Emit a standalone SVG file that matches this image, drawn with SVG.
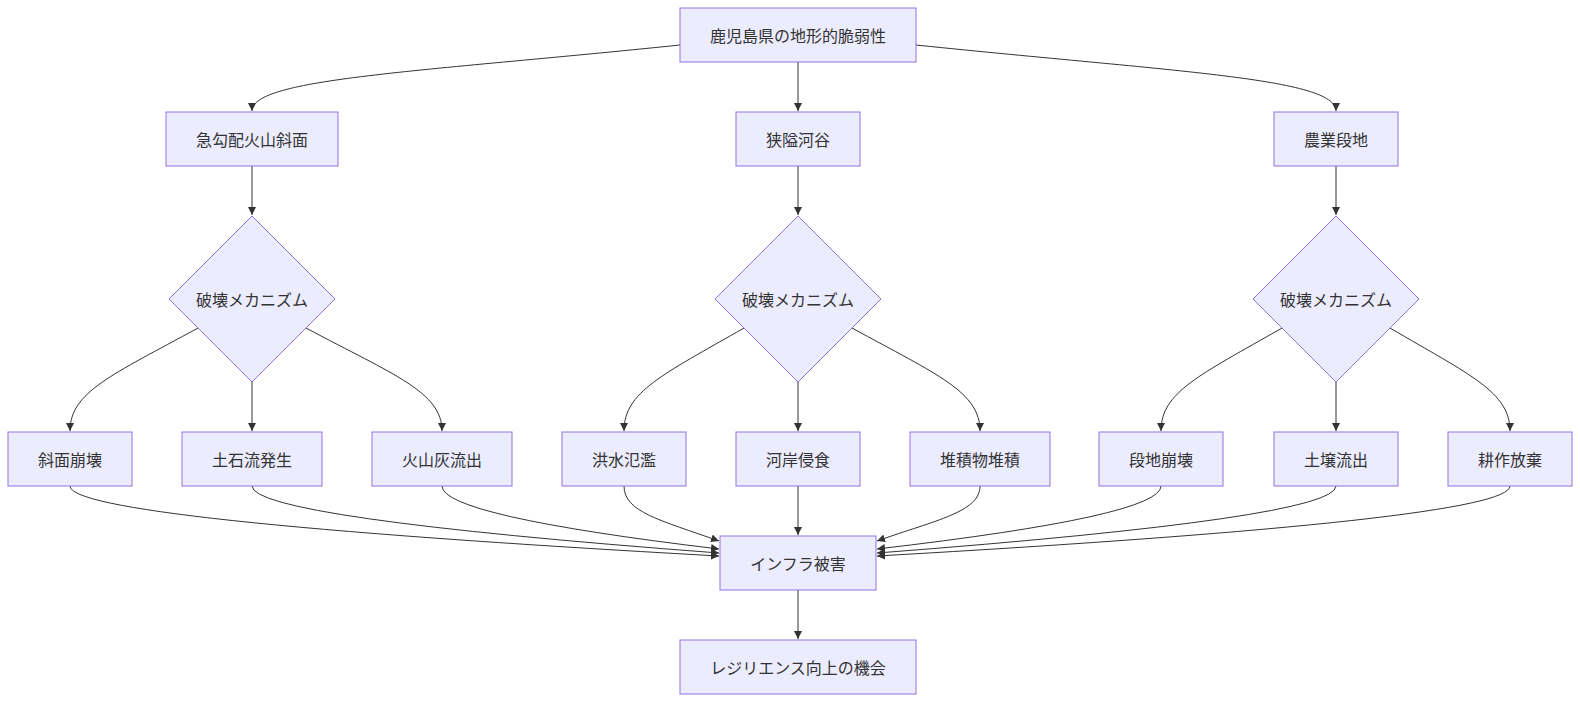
<svg xmlns="http://www.w3.org/2000/svg" width="1580" height="702" viewBox="0 0 1580 702">
<defs>
<marker id="arr" viewBox="0 0 10 10" refX="10" refY="5" markerUnits="userSpaceOnUse" markerWidth="8" markerHeight="8" orient="auto">
<path d="M0,0 L10,5 L0,10 z" fill="#333333"/>
</marker>
</defs>
<style>
.n rect, .n polygon { fill: #ECECFF; stroke: #9370DB; stroke-width: 1; }
.n text { font-family: "Noto Sans CJK JP", "Noto Sans", sans-serif; font-size: 16px; fill: #333333; text-anchor: middle; dominant-baseline: central; }
.e path { fill: none; stroke: #333333; stroke-width: 1; marker-end: url(#arr); }
</style>
<rect width="1580" height="702" fill="#ffffff"/>
<g id="edges" class="e">
<path d="M680,45 C420,72 252,78 252,111"/>
<path d="M798,62 L798,111"/>
<path d="M916,45 C1176,72 1336,78 1336,111"/>
<path d="M252,166 L252,215"/>
<path d="M798,166 L798,215"/>
<path d="M1336,166 L1336,215"/>
<path d="M198,328 C112,375 70,392 70,431"/>
<path d="M252,382 L252,431"/>
<path d="M306,328 C394,375 442,392 442,431"/>
<path d="M744,328 C662,375 624,392 624,431"/>
<path d="M798,382 L798,431"/>
<path d="M852,328 C938,375 980,392 980,431"/>
<path d="M1282,328 C1200,375 1161,392 1161,431"/>
<path d="M1336,382 L1336,431"/>
<path d="M1390,328 C1470,375 1510,392 1510,431"/>
<path d="M70,486 Q70,520 719,556"/>
<path d="M252,486 Q252,518 719,553"/>
<path d="M442,486 Q442,516 719,549"/>
<path d="M624,486 C624,512 660,520 719,541"/>
<path d="M798,486 L798,535"/>
<path d="M980,486 C980,512 936,520 877,541"/>
<path d="M1161,486 Q1161,516 877,549"/>
<path d="M1336,486 Q1336,518 877,553"/>
<path d="M1510,486 Q1510,520 877,556"/>
<path d="M798,590 L798,639"/>
</g>
<g id="n_top" class="n"><rect x="680" y="8" width="236" height="54"/><text x="798" y="35">鹿児島県の地形的脆弱性</text></g>
<g id="n_slope" class="n"><rect x="166" y="112" width="172" height="54"/><text x="252" y="139">急勾配火山斜面</text></g>
<g id="n_valley" class="n"><rect x="736" y="112" width="124" height="54"/><text x="798" y="139">狭隘河谷</text></g>
<g id="n_terrace" class="n"><rect x="1274" y="112" width="124" height="54"/><text x="1336" y="139">農業段地</text></g>
<g id="n_d1" class="n"><polygon points="252,216 335,299 252,382 169,299"/><text x="252" y="299">破壊メカニズム</text></g>
<g id="n_d2" class="n"><polygon points="798,216 881,299 798,382 715,299"/><text x="798" y="299">破壊メカニズム</text></g>
<g id="n_d3" class="n"><polygon points="1336,216 1419,299 1336,382 1253,299"/><text x="1336" y="299">破壊メカニズム</text></g>
<g id="n_b1" class="n"><rect x="8" y="432" width="124" height="54"/><text x="70" y="459">斜面崩壊</text></g>
<g id="n_b2" class="n"><rect x="182" y="432" width="140" height="54"/><text x="252" y="459">土石流発生</text></g>
<g id="n_b3" class="n"><rect x="372" y="432" width="140" height="54"/><text x="442" y="459">火山灰流出</text></g>
<g id="n_b4" class="n"><rect x="562" y="432" width="124" height="54"/><text x="624" y="459">洪水氾濫</text></g>
<g id="n_b5" class="n"><rect x="736" y="432" width="124" height="54"/><text x="798" y="459">河岸侵食</text></g>
<g id="n_b6" class="n"><rect x="910" y="432" width="140" height="54"/><text x="980" y="459">堆積物堆積</text></g>
<g id="n_b7" class="n"><rect x="1099" y="432" width="124" height="54"/><text x="1161" y="459">段地崩壊</text></g>
<g id="n_b8" class="n"><rect x="1274" y="432" width="124" height="54"/><text x="1336" y="459">土壌流出</text></g>
<g id="n_b9" class="n"><rect x="1448" y="432" width="124" height="54"/><text x="1510" y="459">耕作放棄</text></g>
<g id="n_infra" class="n"><rect x="720" y="536" width="156" height="54"/><text x="798" y="563">インフラ被害</text></g>
<g id="n_res" class="n"><rect x="680" y="640" width="236" height="54"/><text x="798" y="667">レジリエンス向上の機会</text></g>
</svg>
